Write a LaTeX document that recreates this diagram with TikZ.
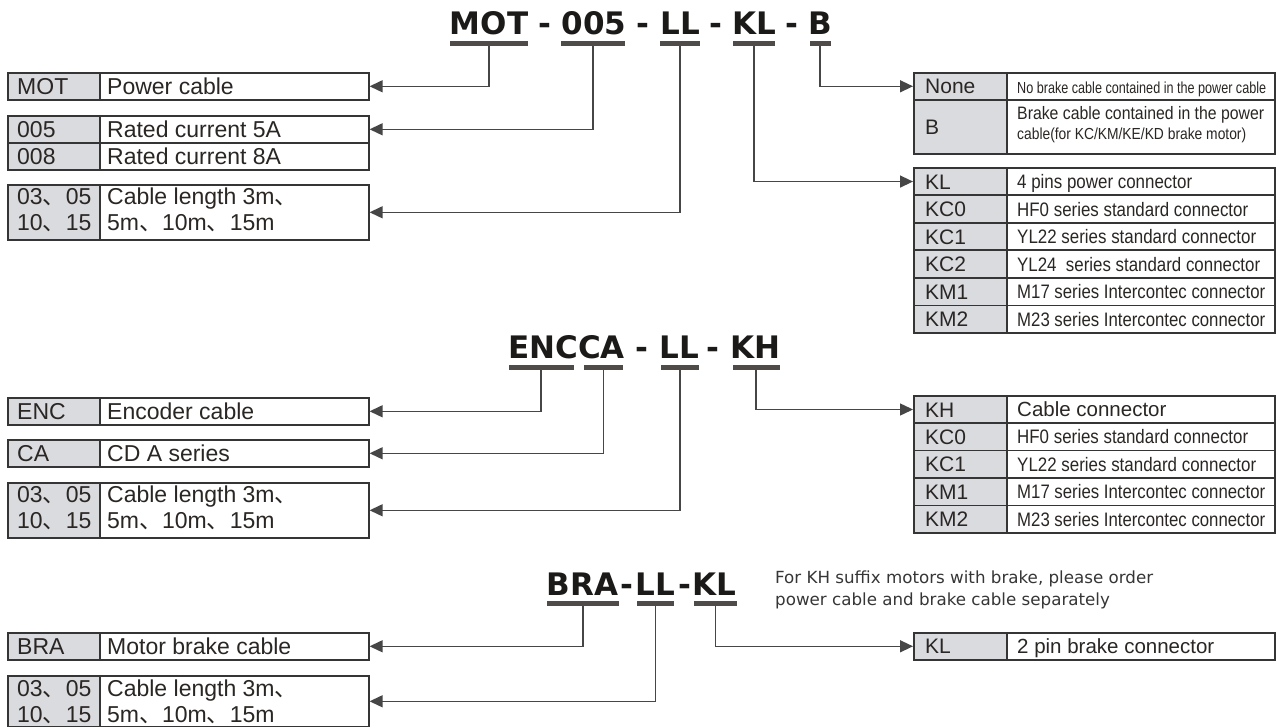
\documentclass[tikz,border=0pt]{standalone}
\usepackage{fontspec}
\usepackage{graphicx}
\setmainfont{Liberation Sans}
\newfontfamily\cjk{Noto Sans CJK SC}
\newfontfamily\dv{DejaVu Sans}
\usetikzlibrary{arrows.meta,calc}
\definecolor{keyfill}{HTML}{DADBDF}
\definecolor{bord}{HTML}{353535}
\definecolor{txtc}{HTML}{2A2624}
\definecolor{linec}{HTML}{464646}
\definecolor{barc}{HTML}{4F4B48}
\definecolor{ttlc}{HTML}{1C1A19}
\definecolor{notec}{HTML}{363636}
\newcommand\dun{{\cjk 、}}
\newcommand\sq[2]{\resizebox{#1pt}{\height}{#2}}
\tikzset{
  keycell/.style={draw=bord, fill=keyfill, line width=1.6pt, inner sep=0pt, minimum width=92pt, anchor=north west},
  desccell/.style={draw=bord, fill=white, line width=1.6pt, inner sep=0pt, minimum width=269pt, anchor=north west},
  rkeycell/.style={keycell, minimum width=93pt},
  rdesccell/.style={desccell, minimum width=268pt},
  ltxt/.style={font=\fontsize{23}{26}\selectfont, text=txtc, inner sep=0pt, anchor=base west},
  rtxt/.style={font=\fontsize{21}{26}\selectfont, text=txtc, inner sep=0pt, anchor=base west},
  rdtxt/.style={font=\fontsize{19.5}{24}\selectfont, text=txtc, inner sep=0pt, anchor=base west},
  bar/.style={fill=barc, inner sep=0pt, minimum height=5pt, anchor=north},
  ttl/.style={font=\dv\bfseries\fontsize{31}{31}\selectfont, text=ttlc, inner sep=0pt, anchor=base},
  conn/.style={draw=linec, line width=1.4pt, -{Triangle[length=13pt,width=12pt]}},
  notetxt/.style={font=\dv\fontsize{16.7}{22}\selectfont, text=notec, inner sep=0pt, anchor=base west}
}
% left single-line row: name, ytop, height, key, desc
\newcommand\Lrow[5]{%
  \node[keycell, minimum height=#3] (#1K) at (7,-#2) {};
  \node[desccell, minimum height=#3] (#1D) at (99,-#2) {};
  \node[ltxt] (#1k) at ([xshift=10pt,yshift=-8pt]#1K.west) {#4};
  \node[ltxt] (#1d) at ([xshift=8pt,yshift=-8pt]#1D.west) {#5};
}
% left cable length row: name, ytop, height, extra downward shift of text
\newcommand\Llen[4]{%
  \node[keycell, minimum height=#3] (#1K) at (7,-#2) {};
  \node[desccell, minimum height=#3] (#1D) at (99,-#2) {};
  \node[ltxt] (#1ka) at ([xshift=10pt,yshift=7.5pt-#4]#1K.west) {03\dun 05};
  \node[ltxt] (#1kb) at ([xshift=10pt,yshift=-18.5pt-#4]#1K.west) {10\dun 15};
  \node[ltxt] (#1da) at ([xshift=8pt,yshift=7.5pt-#4]#1D.west) {Cable length 3m\dun};
  \node[ltxt] (#1db) at ([xshift=8pt,yshift=-18.5pt-#4]#1D.west) {5m\dun 10m\dun 15m};
}
% right row: name, ytop, height, key, desc
\newcommand\Rrow[5]{%
  \node[rkeycell, minimum height=#3] (#1K) at (913,-#2) {};
  \node[rdesccell, minimum height=#3] (#1D) at (1006,-#2) {};
  \node[rtxt] (#1k) at ([xshift=12pt,yshift=-7.5pt]#1K.west) {#4};
  \node[rdtxt] (#1d) at ([xshift=11pt,yshift=-7pt]#1D.west) {#5};
}
\begin{document}
\begin{tikzpicture}[x=1pt,y=1pt]
\useasboundingbox[fill=white] (0,0) rectangle (1282,-727);

% ===== MOT-005-LL-KL-B =====
\node[ttl] (tMOT) at (489,-35) {MOT};
\node[ttl] (h1) at (545,-35) {-};
\node[ttl] (t005) at (594,-35) {005};
\node[ttl] (h2) at (643,-35) {-};
\node[ttl] (tLL) at (680,-35) {LL};
\node[ttl] (h3) at (716,-35) {-};
\node[ttl] (tKL) at (754,-35) {KL};
\node[ttl] (h4) at (792,-35) {-};
\node[ttl] (tB) at (820,-35) {B};
\node[bar, minimum width=78pt] (bMOT) at (489,-41) {};
\node[bar, minimum width=64pt] (b005) at (593,-41) {};
\node[bar, minimum width=40pt] (bLL) at (680,-41) {};
\node[bar, minimum width=42pt] (bKL) at (754,-41) {};
\node[bar, minimum width=21pt] (bB) at (820,-41) {};

\Lrow{mot}{72}{27}{MOT}{Power cable}
\Lrow{ra}{115}{27}{005}{Rated current 5A}
\Lrow{rb}{142}{27}{008}{Rated current 8A}
\Llen{lena}{184}{55}{0pt}

\Rrow{none}{72}{27}{None}{\sq{249}{\fontsize{16}{18}\selectfont No brake cable contained in the power cable}}
\node[rkeycell, minimum height=54pt] (bbK) at (913,-99) {};
\node[rdesccell, minimum height=54pt] (bbD) at (1006,-99) {};
\node[rtxt] (bbk) at ([xshift=12pt,yshift=-8pt]bbK.west) {B};
\node[rdtxt] (bbd1) at ([xshift=11pt,yshift=7pt]bbD.west) {\sq{247}{\fontsize{18}{20}\selectfont Brake cable contained in the power}};
\node[rdtxt] (bbd2) at ([xshift=11pt,yshift=-13pt]bbD.west) {\sq{229}{\fontsize{16}{18}\selectfont cable(for KC/KM/KE/KD brake motor)}};

\Rrow{kla}{167}{27.5}{KL}{\sq{175}{4 pins power connector}}
\Rrow{klb}{194.5}{27.5}{KC0}{\sq{231}{HF0 series standard connector}}
\Rrow{klc}{222}{27.5}{KC1}{\sq{239}{YL22 series standard connector}}
\Rrow{kld}{249.5}{27.5}{KC2}{\sq{243}{YL24\ \ series standard connector}}
\Rrow{kle}{277}{27.5}{KM1}{\sq{248}{M17 series Intercontec connector}}
\Rrow{klf}{304.5}{27.5}{KM2}{\sq{248}{M23 series Intercontec connector}}

\draw[conn] (bMOT.south) |- (motD.east);
\draw[conn] (b005.south) |- (raD.east);
\draw[conn] (bLL.south) |- (lenaD.east);
\draw[conn] (bKL.south) |- (klaK.west);
\draw[conn] (bB.south) |- (noneK.west);

% ===== ENCCA-LL-KH =====
\node[ttl] (tENCCA) at (566.5,-358) {ENCCA};
\node[ttl] (h5) at (642,-358) {-};
\node[ttl] (tLL2) at (679,-358) {LL};
\node[ttl] (h6) at (713,-358) {-};
\node[ttl] (tKH) at (755.5,-358) {KH};
\node[bar, minimum width=65pt] (bENC) at (541,-365) {};
\node[bar, minimum width=39pt] (bCA) at (603.5,-365) {};
\node[bar, minimum width=38pt] (bLL2) at (680,-365) {};
\node[bar, minimum width=47pt] (bKH) at (756,-365) {};

\Lrow{enc}{397}{27}{ENC}{Encoder cable}
\Lrow{ca}{439}{27}{CA}{CD A series}
\Llen{lenb}{482}{55}{0pt}

\Rrow{kha}{395}{27.4}{KH}{\fontsize{20.5}{24}\selectfont Cable connector}
\Rrow{khb}{422.4}{27.4}{KC0}{\sq{231}{HF0 series standard connector}}
\Rrow{khc}{449.8}{27.4}{KC1}{\sq{239}{YL22 series standard connector}}
\Rrow{khd}{477.2}{27.4}{KM1}{\sq{248}{M17 series Intercontec connector}}
\Rrow{khe}{504.6}{27.4}{KM2}{\sq{248}{M23 series Intercontec connector}}

\draw[conn] (bENC.south) |- (encD.east);
\draw[conn] (bCA.south) |- (caD.east);
\draw[conn] (bLL2.south) |- (lenbD.east);
\draw[conn] (bKH.south) |- (khaK.west);

% ===== BRA-LL-KL =====
\node[ttl] (tBRA) at (582.5,-595) {BRA};
\node[ttl] (h7) at (627,-595) {-};
\node[ttl] (tLL3) at (655.5,-595) {LL};
\node[ttl] (h8) at (685,-595) {-};
\node[ttl] (tKL3) at (714.5,-595) {KL};
\node[bar, minimum width=72pt] (bBRA) at (583,-601) {};
\node[bar, minimum width=37pt] (bLL3) at (655.5,-601) {};
\node[bar, minimum width=43pt] (bKL3) at (715.5,-601) {};

\node[notetxt] (note1) at (775,-583) {For KH suffix motors with brake, please order};
\node[notetxt] (note2) at (775,-605) {power cable and brake cable separately};

\Lrow{bra}{632}{27}{BRA}{Motor brake cable}
\Llen{lenc}{675}{51}{3pt}
\Rrow{brk}{632}{27}{KL}{\fontsize{20.5}{24}\selectfont 2 pin brake connector}

\draw[conn] (bBRA.south) |- (braD.east);
\draw[conn] (bLL3.south) |- (lencD.east);
\draw[conn] (bKL3.south) |- (brkK.west);
\end{tikzpicture}
\end{document}
